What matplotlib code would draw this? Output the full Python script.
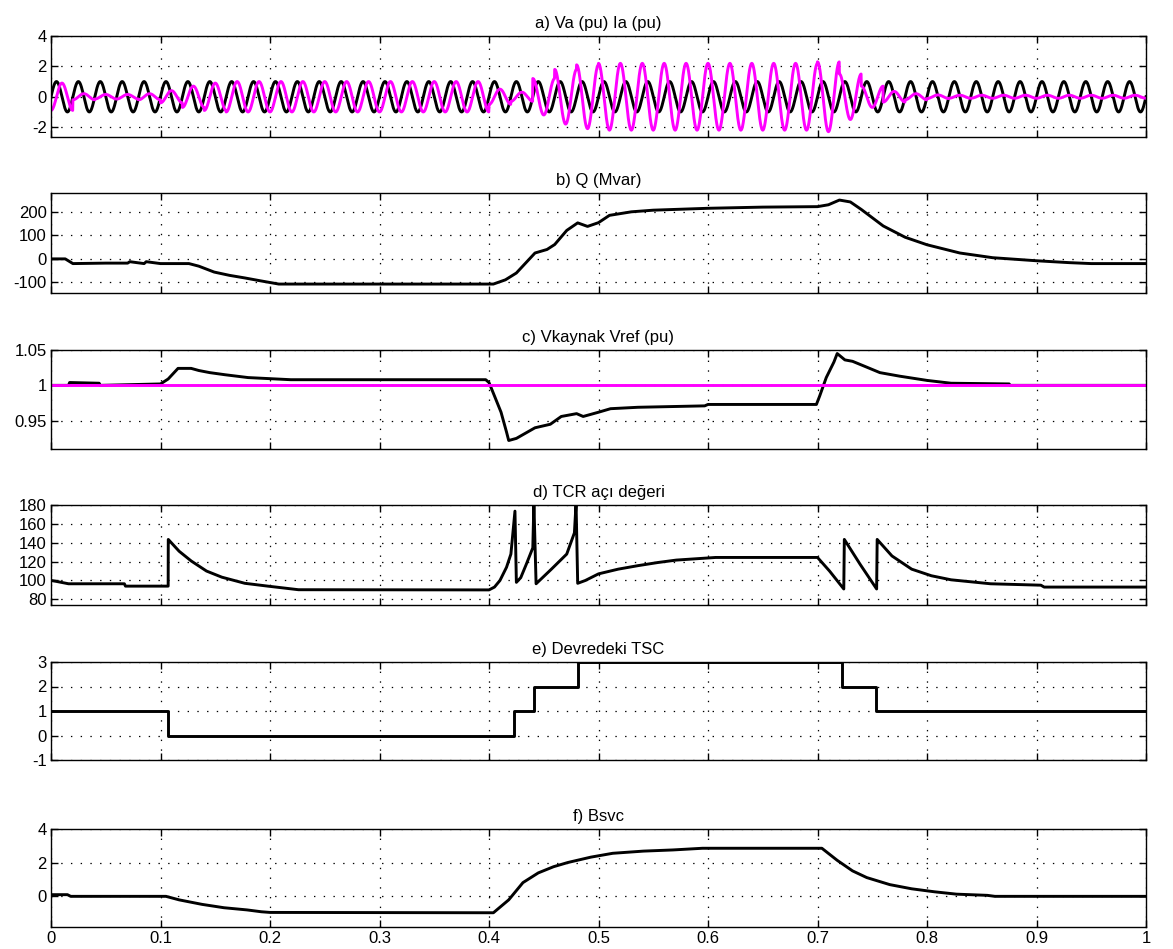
import numpy as np
import matplotlib
matplotlib.use("Agg")
import matplotlib.pyplot as plt

plt.rcParams['font.family'] = ['Liberation Sans Narrow', 'Liberation Sans', 'DejaVu Sans']
plt.rcParams['lines.scale_dashes'] = False

# ---------------- data ----------------
titles = ["a) Va (pu) Ia (pu)", "b) Q (Mvar)", "c) Vkaynak Vref (pu)",
          "d) TCR açı değeri", "e) Devredeki TSC", "f) Bsvc"]
xticks = [0, 0.1, 0.2, 0.3, 0.4, 0.5, 0.6, 0.7, 0.8, 0.9, 1]
xticklabels = ["0", "0.1", "0.2", "0.3", "0.4", "0.5", "0.6", "0.7", "0.8", "0.9", "1"]

# a) 50 Hz waveforms: peak amplitude per cycle (20 ms) and phase (deg)
f_grid = 50.0
va_amp = [1.0] * 50
ia_amp = [0.9, 0.2, 0.15, 0.15, 0.2, 0.4, 0.7, 0.9, 1.0, 1.0,
          1.0, 1.0, 1.0, 1.0, 1.0, 1.0, 1.0, 1.0, 1.0, 1.0,
          0.5, 0.3, 1.2, 1.8, 2.1, 2.2, 2.2, 2.2, 2.2, 2.2,
          2.2, 2.2, 2.2, 2.2, 2.2, 2.3, 1.5, 0.7, 0.35, 0.2,
          0.12, 0.1, 0.1, 0.1, 0.1, 0.1, 0.1, 0.1, 0.1, 0.1]
ia_phase = [-90] * 22 + [90] * 16 + [-90] * 12

# b) Q (Mvar)
q_t = [0, 0.013, 0.02, 0.05, 0.07, 0.072, 0.085, 0.087, 0.1, 0.126, 0.135, 0.149, 0.163,
       0.177, 0.191, 0.208, 0.404, 0.415, 0.425, 0.435, 0.442, 0.453, 0.46, 0.471,
       0.481, 0.49, 0.5, 0.51, 0.53, 0.55, 0.6, 0.65, 0.7, 0.71, 0.72, 0.73, 0.74,
       0.76, 0.78, 0.8, 0.83, 0.86, 0.9, 0.93, 0.95, 1.0]
q_v = [0, 0, -20, -18, -18, -12, -20, -12, -20, -20, -31, -56, -70,
       -81, -93, -107, -107, -89, -60, -10, 25, 40, 61, 121,
       153, 138, 154, 185, 200, 207, 215, 220, 222, 230, 250, 242, 210,
       140, 92, 60, 25, 5, -8, -16, -20, -20]

# c) Vkaynak and Vref (pu)
vk_t = [0, 0.016, 0.017, 0.044, 0.045, 0.1, 0.107, 0.116, 0.128, 0.135, 0.145, 0.159,
        0.18, 0.219, 0.397, 0.4, 0.405, 0.411, 0.416, 0.418, 0.425, 0.442, 0.456,
        0.466, 0.48, 0.486, 0.5, 0.511, 0.536, 0.597, 0.6, 0.699, 0.702, 0.708,
        0.715, 0.718, 0.725, 0.732, 0.743, 0.757, 0.775, 0.8, 0.822, 0.875, 0.876, 1.0]
vk_v = [1.0, 1.0, 1.004, 1.003, 1.0, 1.002, 1.009, 1.024, 1.024, 1.021, 1.018, 1.015,
        1.011, 1.008, 1.008, 1.004, 0.985, 0.962, 0.934, 0.922, 0.925, 0.940, 0.945,
        0.956, 0.960, 0.956, 0.962, 0.967, 0.969, 0.971, 0.973, 0.973, 0.985, 1.011,
        1.033, 1.045, 1.036, 1.034, 1.027, 1.018, 1.013, 1.007, 1.003, 1.002, 1.0, 1.0]
vref_t = [0, 1.0]
vref_v = [1.0, 1.0]

# d) TCR firing angle (deg)
al_t = [0, 0.005, 0.016, 0.067, 0.068, 0.107, 0.1071, 0.117, 0.128, 0.142, 0.156, 0.177,
        0.198, 0.226, 0.4, 0.405, 0.41, 0.416, 0.42, 0.4237, 0.425, 0.429, 0.434,
        0.44, 0.441, 0.443, 0.457, 0.471, 0.478, 0.4795, 0.481, 0.488, 0.5, 0.518,
        0.536, 0.554, 0.571, 0.607, 0.7, 0.711, 0.724, 0.7245, 0.739, 0.754,
        0.7545, 0.768, 0.786, 0.804, 0.822, 0.858, 0.904, 0.907, 1.0]
al_v = [100, 99, 96.5, 96.5, 94, 94, 143.5, 131, 120.7, 110, 103.5, 97,
        94, 90.2, 90, 93, 100, 114, 128, 173.5, 98, 103, 117,
        134.6, 182, 96.5, 112, 128, 150.5, 182, 97, 100, 107, 112,
        115.7, 119, 121.6, 124.4, 124.4, 110, 91, 143.5, 117, 91,
        143.5, 126, 112, 105, 100.7, 96.5, 95, 93, 93]

# e) number of TSCs in service
tsc_t = [0, 0.107, 0.4225, 0.4407, 0.481, 0.7226, 0.7537, 1.0]
tsc_v = [1, 0, 1, 2, 3, 2, 1, 1]

# f) Bsvc
b_t = [0, 0.015, 0.018, 0.105, 0.117, 0.138, 0.158, 0.179, 0.192, 0.2, 0.404, 0.418,
       0.431, 0.445, 0.459, 0.472, 0.493, 0.513, 0.541, 0.568, 0.595, 0.704, 0.718,
       0.732, 0.745, 0.766, 0.786, 0.807, 0.827, 0.855, 0.862, 1.0]
b_v = [0.08, 0.08, -0.02, -0.02, -0.23, -0.5, -0.7, -0.83, -0.94, -0.98, -1.0, -0.23,
       0.8, 1.38, 1.75, 2.0, 2.32, 2.55, 2.68, 2.75, 2.85, 2.85, 2.13,
       1.5, 1.1, 0.68, 0.43, 0.25, 0.11, 0.04, -0.02, -0.02]

ylims = [(-2.65, 4), (-145, 280), (0.91, 1.05), (74, 180), (-1, 3), (-1.85, 4)]
yticks = [[-2, 0, 2, 4], [-100, 0, 100, 200], [0.95, 1, 1.05],
          [80, 100, 120, 140, 160, 180], [-1, 0, 1, 2, 3], [0, 2, 4]]
ytlabels = [["-2", "0", "2", "4"], ["-100", "0", "100", "200"], ["0.95", "1", "1.05"],
            ["80", "100", "120", "140", "160", "180"], ["-1", "0", "1", "2", "3"],
            ["0", "2", "4"]]

# ---------------- figure ----------------
W, H = 1173, 949
fig = plt.figure(figsize=(W / 100, H / 100), dpi=100)
fig.patch.set_facecolor('white')
left_px, right_px = 51, 1146
tops = [36, 193, 350, 505, 662, 829]
heights = [101, 100, 99, 100, 98, 98]

axes = []
for i in range(6):
    ax = fig.add_axes([left_px / W, 1 - (tops[i] + heights[i]) / H,
                       (right_px - left_px) / W, heights[i] / H])
    axes.append(ax)

# waveforms for panel a
t = np.arange(0, 1.0 + 1e-9, 2e-4)
cyc = np.minimum((t * f_grid).astype(int), 49)
w = 2 * np.pi * f_grid * t
va = np.array(va_amp)[cyc] * np.sin(w)
ia = np.array(ia_amp)[cyc] * np.sin(w + np.deg2rad(np.array(ia_phase)[cyc]))

lw = 2.1
axes[0].plot(t, va, color='black', lw=lw)
axes[0].plot(t, ia, color='#ff00ff', lw=lw)
axes[1].plot(q_t, q_v, color='black', lw=lw)
axes[2].plot(vk_t, vk_v, color='black', lw=lw)
axes[2].plot(vref_t, vref_v, color='#ff00ff', lw=lw)
axes[3].plot(al_t, al_v, color='black', lw=lw)
axes[4].step(tsc_t, tsc_v, where='post', color='black', lw=lw)
axes[5].plot(b_t, b_v, color='black', lw=lw)

for i, ax in enumerate(axes):
    ax.set_xlim(0, 1)
    ax.set_ylim(*ylims[i])
    ax.set_xticks(xticks)
    ax.set_yticks(yticks[i])
    ax.set_yticklabels(ytlabels[i])
    if i == 5:
        ax.set_xticklabels(xticklabels)
    else:
        ax.set_xticklabels([])
    ax.tick_params(direction='in', length=5, width=1, top=True, right=True,
                   labelsize=12, pad=3, colors='black')
    ax.grid(True, color='black', linestyle=(0, (1, 6)), linewidth=0.9)
    for s in ax.spines.values():
        s.set_linewidth(1.0)
        s.set_color('black')
    ax.set_title(titles[i], fontsize=12, pad=6)

fig.savefig("out.png", dpi=100, facecolor='white')
